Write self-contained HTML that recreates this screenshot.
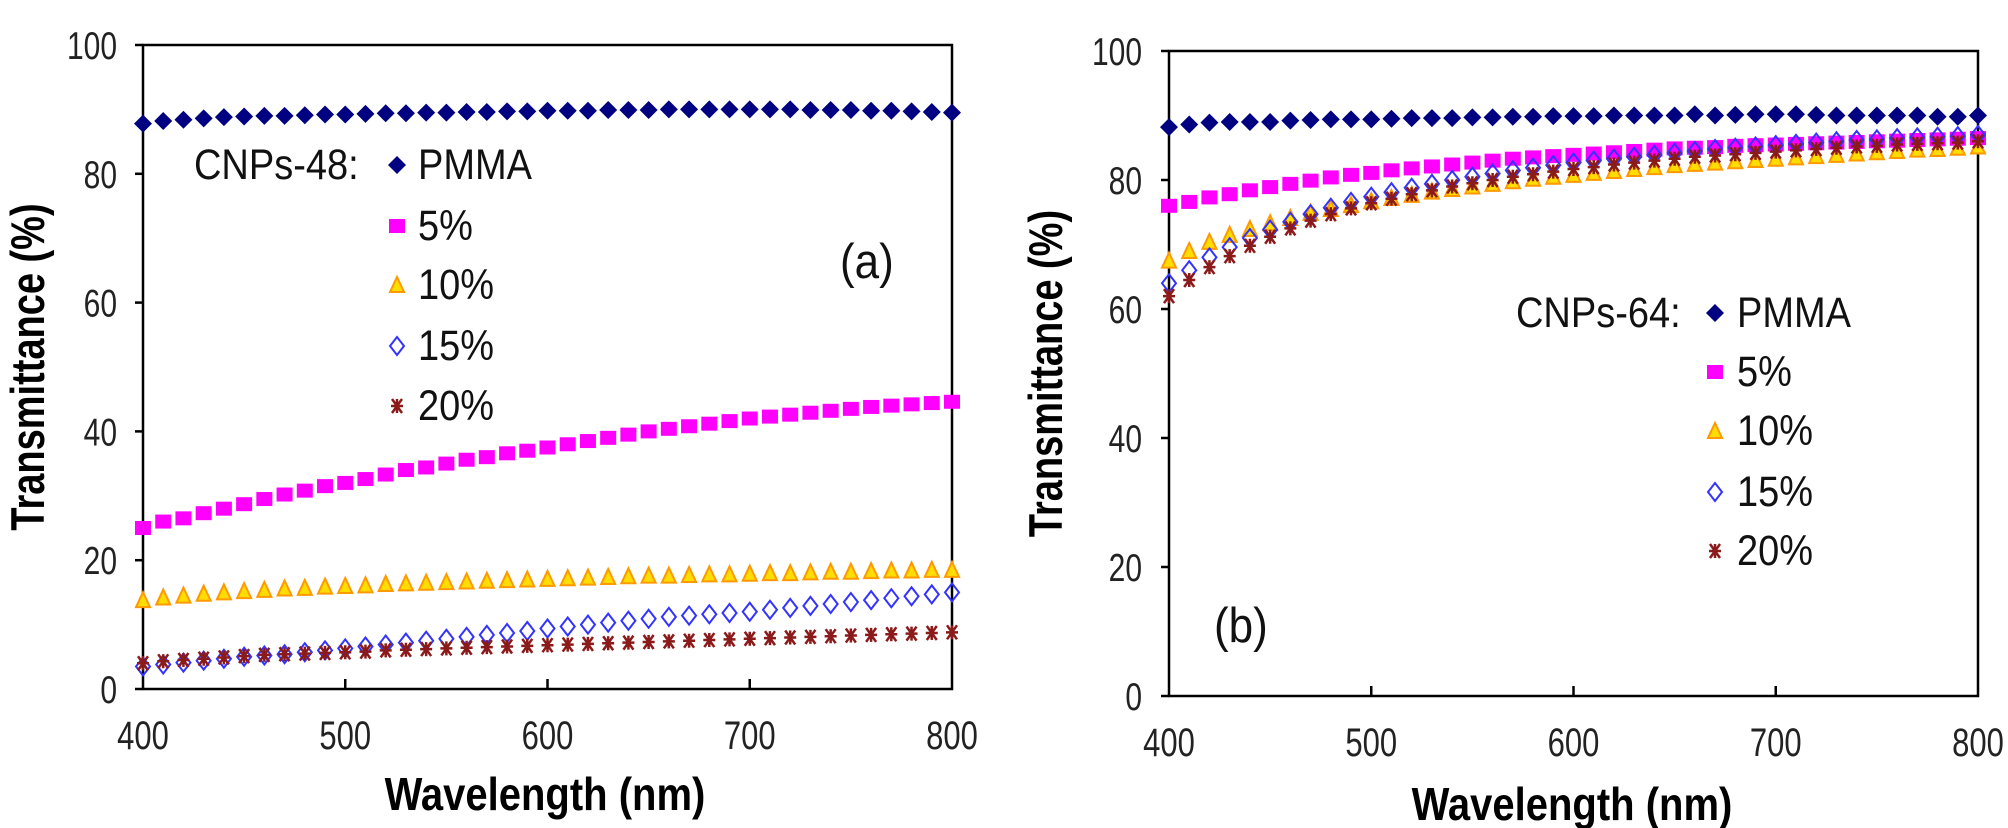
<!DOCTYPE html>
<html><head><meta charset="utf-8"><style>
html,body{margin:0;padding:0;background:#fff;}
svg{display:block;font-family:"Liberation Sans",Arial,sans-serif;}
</style></head><body>
<svg id="chart" width="2008" height="828" viewBox="0 0 2008 828" xmlns="http://www.w3.org/2000/svg"></svg>
<script>
const wavelengths = [];
for (let w = 400; w <= 800; w += 10) wavelengths.push(w);
const xTicks = [400, 500, 600, 700, 800];
const yTicks = [0, 20, 40, 60, 80, 100];
const seriesNames = ["PMMA", "5%", "10%", "15%", "20%"];

const a_pmma = [87.8,88.2,88.4,88.6,88.8,88.9,89.0,89.0,89.1,89.2,89.2,89.3,89.4,89.4,89.5,89.5,89.6,89.6,89.7,89.7,89.8,89.8,89.8,89.9,89.9,89.9,90.0,90.0,90.0,90.0,90.0,90.0,90.0,89.9,89.9,89.9,89.8,89.8,89.7,89.6,89.5];
const a_5 = [25,26,26.5,27.3,28,28.7,29.5,30.2,30.8,31.5,32,32.6,33.3,34,34.4,35,35.6,36,36.6,37,37.5,38,38.5,39,39.5,40,40.4,40.8,41.2,41.6,42,42.3,42.6,42.9,43.2,43.5,43.8,44,44.2,44.4,44.6];
const a_10 = [13.8,14.2,14.5,14.8,15.0,15.2,15.4,15.6,15.7,15.9,16.0,16.1,16.3,16.4,16.5,16.6,16.7,16.8,16.9,17.0,17.1,17.2,17.3,17.4,17.5,17.6,17.6,17.7,17.8,17.8,17.9,18.0,18.0,18.1,18.2,18.2,18.3,18.4,18.4,18.5,18.5];
const a_15 = [3.5,3.8,4.1,4.4,4.7,5.0,5.2,5.4,5.7,6.0,6.3,6.6,6.9,7.2,7.5,7.8,8.1,8.4,8.7,9.0,9.4,9.7,10.0,10.3,10.6,10.9,11.2,11.4,11.6,11.8,12.0,12.3,12.6,12.9,13.2,13.5,13.8,14.1,14.4,14.7,15.0];
const a_20 = [4.0,4.3,4.5,4.7,4.9,5.1,5.3,5.4,5.5,5.6,5.7,5.8,6.0,6.1,6.2,6.3,6.4,6.5,6.6,6.7,6.8,6.9,7.0,7.1,7.2,7.3,7.4,7.5,7.6,7.7,7.8,7.9,8.0,8.1,8.2,8.3,8.4,8.5,8.6,8.7,8.8];

const b_pmma = [88.2,88.6,88.9,89.0,89.0,89.0,89.2,89.3,89.4,89.4,89.4,89.5,89.6,89.6,89.6,89.7,89.7,89.8,89.8,89.9,89.9,89.9,90.0,90.0,90.0,90.0,90.2,90.0,90.1,90.2,90.2,90.2,90.1,90.0,90.0,90.0,90.0,90.0,89.8,89.8,90.0];
const b_5 = [76,76.6,77.3,77.8,78.4,78.9,79.4,79.9,80.4,80.8,81.1,81.5,81.8,82.1,82.4,82.7,83.0,83.3,83.5,83.7,83.9,84.1,84.3,84.5,84.7,84.9,85.0,85.1,85.3,85.4,85.5,85.6,85.7,85.8,85.9,86.0,86.1,86.2,86.3,86.4,86.5];
const b_10 = [67.5,69,70.4,71.5,72.4,73.3,74.1,74.9,75.5,76.1,76.7,77.2,77.7,78.2,78.6,79.0,79.4,79.8,80.2,80.5,80.8,81.1,81.4,81.7,82.0,82.3,82.5,82.7,82.9,83.1,83.3,83.5,83.7,83.9,84.1,84.3,84.5,84.7,84.8,85.0,85.2];
const b_15 = [64,66,68,69.6,71,72.3,73.5,74.7,75.7,76.6,77.4,78.1,78.8,79.4,80.0,80.5,81.0,81.5,81.9,82.3,82.7,83.0,83.3,83.6,83.9,84.2,84.5,84.8,85.0,85.2,85.4,85.6,85.8,86.0,86.2,86.3,86.5,86.6,86.7,86.8,87.0];
const b_20 = [62,64.5,66.5,68.2,69.8,71.2,72.5,73.7,74.7,75.6,76.4,77.1,77.8,78.4,79.0,79.5,80.0,80.5,80.9,81.3,81.7,82.0,82.4,82.7,83.0,83.3,83.6,83.8,84.0,84.2,84.4,84.6,84.8,85.0,85.2,85.3,85.5,85.6,85.7,85.8,86.0];

const NS = "http://www.w3.org/2000/svg";
const svg = document.getElementById("chart");
function mk(tag, attrs, parent) {
  const e = document.createElementNS(NS, tag);
  for (const k in attrs) e.setAttribute(k, attrs[k]);
  (parent || svg).appendChild(e);
  return e;
}

function marker(g, type, cx, cy) {
  let e;
  if (type === 0) {
    e = mk("polygon", {points: `${cx},${cy-9} ${cx+9},${cy} ${cx},${cy+9} ${cx-9},${cy}`, fill: "#000080"}, g);
  } else if (type === 1) {
    e = mk("rect", {x: cx-8, y: cy-7, width: 16, height: 14, fill: "#ff00ff"}, g);
  } else if (type === 2) {
    e = mk("polygon", {points: `${cx},${cy-8} ${cx+7},${cy+7} ${cx-7},${cy+7}`, fill: "#ffdd00", stroke: "#ff9900", "stroke-width": 2}, g);
  } else if (type === 3) {
    e = mk("polygon", {points: `${cx},${cy-9} ${cx+7},${cy} ${cx},${cy+9} ${cx-7},${cy}`, fill: "none", stroke: "#3333ff", "stroke-width": 2}, g);
  } else {
    e = mk("path", {d: `M${cx-5},${cy-7}L${cx+5},${cy+7}M${cx+5},${cy-7}L${cx-5},${cy+7}M${cx},${cy-7}L${cx},${cy+7}M${cx-6},${cy}L${cx+6},${cy}`, fill: "none", stroke: "#8b1a1a", "stroke-width": 2.5}, g);
  }
  return e;
}

function drawPanel(cfg) {
  const {id, L, R, T, B, data, legX, legMarkX, legTextX, legRows, panelLabel, titleX, titleY, yTitleX, ylabRight, xlabY} = cfg;
  const xs = v => L + (v - 400) / 400 * (R - L);
  const ys = v => B - v / 100 * (B - T);
  const g = mk("g", {});
  
  

  const frame = mk("rect", {x: L, y: T, width: R - L, height: B - T, fill: "none", stroke: "#000", "stroke-width": 2.5}, g);
  
  

  const yax = mk("g", {}, g);
  
  
  yTicks.forEach(t => {
    mk("line", {x1: L - 8, x2: L, y1: ys(t), y2: ys(t), stroke: "#000", "stroke-width": 2.5}, yax);
    const tx = mk("text", {transform: `translate(${ylabRight},${ys(t) + 14}) scale(1,1.3)`, "text-anchor": "end", "font-size": 30, fill: "#222"}, yax);
    tx.textContent = t;
    
    
  });
  const xax = mk("g", {}, g);
  
  
  xTicks.forEach(t => {
    if (t > 400 && t < 800) mk("line", {x1: xs(t), x2: xs(t), y1: B, y2: B - 10, stroke: "#000", "stroke-width": 2.5}, xax);
    const tx = mk("text", {transform: `translate(${xs(t)},${xlabY}) scale(1,1.3)`, "text-anchor": "middle", "font-size": 31, fill: "#222"}, xax);
    tx.textContent = t;
    
    
  });

  const xt = mk("text", {transform: `translate(${titleX},${titleY}) scale(1,1.15)`, "text-anchor": "middle", "font-size": 40, "font-weight": "bold", fill: "#000"}, g);
  xt.textContent = "Wavelength (nm)";
  
  
  const yt = mk("text", {transform: `translate(${yTitleX},${(T + B) / 2}) rotate(-90) scale(1,1.25)`, "text-anchor": "middle", "font-size": 38, "font-weight": "bold", fill: "#000"}, g);
  yt.textContent = "Transmittance (%)";
  
  

  data.forEach((arr, si) => {
    const sg = mk("g", {}, g);
    
    
    arr.forEach((v, i) => {
      const m = marker(sg, si, xs(wavelengths[i]), ys(v));
      
      
    });
  });

  const lg = mk("g", {}, g);
  
  
  const lt = mk("text", {transform: `translate(${legX},${legRows[0] + 14}) scale(1,1.12)`, "font-size": 38, fill: "#111"}, lg);
  lt.textContent = cfg.legTitle;
  
  
  legRows.forEach((ry, si) => {
    const m = marker(lg, si, legMarkX, ry);
    
    
    const t = mk("text", {transform: `translate(${legTextX},${ry + 14}) scale(1,1.12)`, "font-size": 38, fill: "#111"}, lg);
    t.textContent = seriesNames[si];
    
    
  });

  const pl = mk("text", {transform: `translate(${panelLabel[0]},${panelLabel[1]}) scale(1,1.12)`, "font-size": 44, fill: "#111"}, g);
  pl.textContent = panelLabel[2];
  
  
}

drawPanel({id: "a", L: 143, R: 952, T: 45, B: 689, data: [a_pmma, a_5, a_10, a_15, a_20],
  legTitle: "CNPs-48:", legX: 194, legMarkX: 397, legTextX: 418, legRows: [165, 226, 285, 346, 406],
  panelLabel: [840, 278, "(a)"], titleX: 545, titleY: 810, yTitleX: 44, ylabRight: 117, xlabY: 749});
drawPanel({id: "b", L: 1169, R: 1978, T: 51, B: 696, data: [b_pmma, b_5, b_10, b_15, b_20],
  legTitle: "CNPs-64:", legX: 1516, legMarkX: 1715, legTextX: 1737, legRows: [313, 372, 431, 492, 551],
  panelLabel: [1214, 642, "(b)"], titleX: 1572, titleY: 820, yTitleX: 1062, ylabRight: 1142, xlabY: 756});
</script>
</body></html>
